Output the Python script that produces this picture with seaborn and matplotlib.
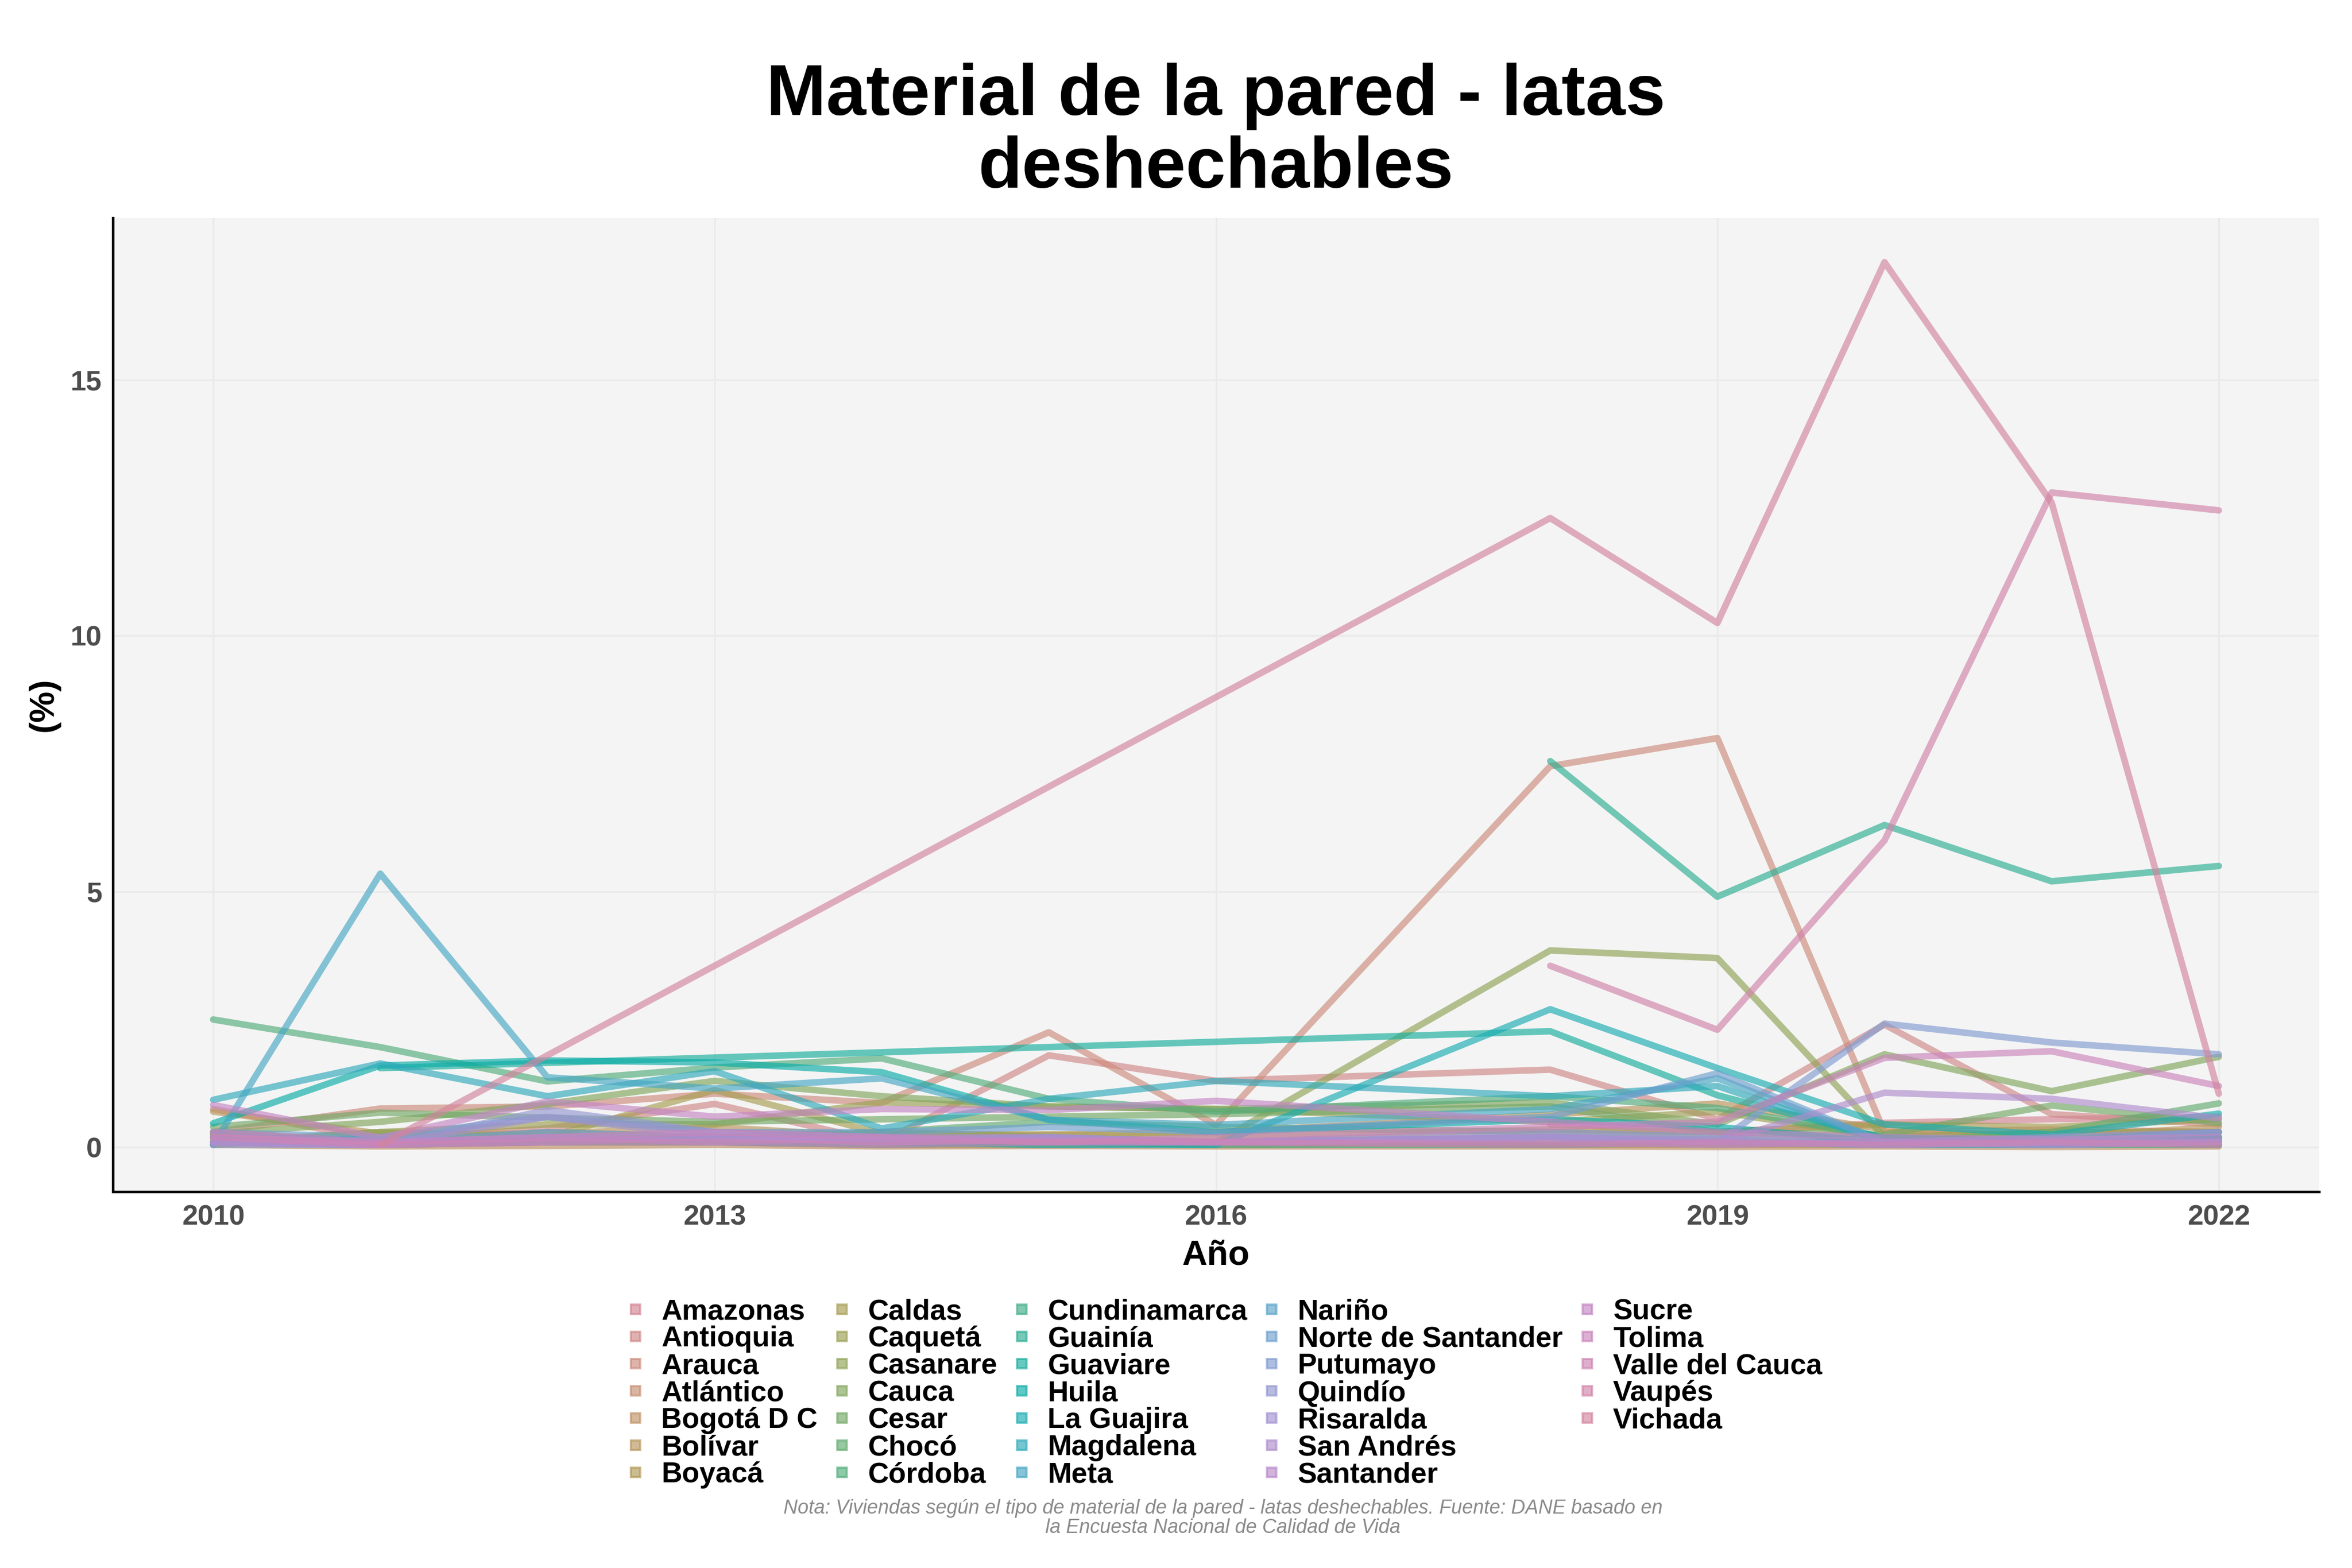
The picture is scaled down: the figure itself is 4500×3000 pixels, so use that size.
import numpy as np
import pandas as pd
import matplotlib
matplotlib.use("Agg")
import matplotlib.pyplot as plt
from matplotlib.lines import Line2D
import seaborn as sns

N = None
years = [2010, 2011, 2012, 2013, 2014, 2015, 2016, 2018, 2019, 2020, 2021, 2022]

amazonas = [N, N, N, N, N, N, N, 0.45, 0.3, 0.48, 0.55, 0.6]
antioquia = [0.75, 0.15, 0.37, 0.85, 0.1, 1.8, 1.3, 1.52, 0.55, 2.4, 0.65, 0.45]
arauca = [0.3, 0.76, 0.8, 1.05, 0.87, 2.25, 0.44, 7.45, 8.0, 0.3, 0.35, 0.3]
atlantico = [0.25, 0.1, 0.15, 0.2, 0.1, 0.1, 0.05, 0.1, 0.05, 0.1, 0.05, 0.1]
bogota = [0.05, 0.02, 0.03, 0.05, 0.02, 0.03, 0.02, 0.02, 0.01, 0.02, 0.01, 0.02]
bolivar = [0.7, 0.27, 0.27, 0.4, 0.2, 0.25, 0.3, 0.64, 0.86, 0.35, 0.2, 0.4]
boyaca = [0.15, 0.05, 0.1, 0.1, 0.05, 0.05, 0.1, 0.05, 0.05, 0.05, 0.1, 0.05]
caldas = [0.3, 0.1, 0.2, 1.12, 0.27, 0.25, 0.2, 0.35, 0.3, 0.45, 0.4, 0.55]
caqueta = [0.1, 0.3, 0.45, 0.45, 0.88, 0.8, 0.75, 0.5, 0.7, 0.2, 0.3, 0.3]
casanare = [0.05, 0.3, 0.2, 0.1, 0.3, 0.2, 0.1, 3.85, 3.7, 0.2, 0.1, 0.2]
cauca = [0.27, 0.5, 0.85, 1.3, 1.0, 0.8, 0.75, 0.88, 0.45, 1.82, 1.1, 1.77]
cesar = [0.4, 0.68, 0.58, 0.5, 0.55, 0.6, 0.65, 0.8, 0.3, 0.25, 0.82, 0.48]
choco = [0.2, 0.1, 0.3, 0.2, 0.3, 0.5, 0.4, 0.3, 0.2, 0.1, 0.3, 0.86]
cordoba = [2.5, 1.96, 1.29, 1.56, 1.74, 0.95, 0.7, 1.0, 0.77, 0.2, 0.1, 0.2]
cundinamarca = [0.1, 0.05, 0.1, 0.1, 0.05, 0.1, 0.05, 0.05, 0.1, 0.05, 0.05, 0.05]
guainia = [N, N, N, N, N, N, N, 7.55, 4.9, 6.3, 5.2, 5.5]
guaviare = [N, 1.55, N, N, N, N, N, 2.27, 1.02, 0.18, 0.15, 0.3]
huila = [0.47, 1.6, 1.7, 1.66, 1.47, 0.54, 0.3, 0.55, 0.4, 0.1, 0.1, 0.2]
la_guajira = [0.2, 0.15, 0.1, 0.2, 0.1, 0.05, 0.05, 2.7, 1.55, 0.45, 0.25, 0.66]
magdalena = [0.93, 1.64, 1.0, 1.49, 0.37, 0.95, 1.3, 1.0, 1.2, 0.1, 0.1, 0.15]
meta = [0.05, 5.35, 1.37, 1.15, 1.35, 0.54, 0.44, 0.75, 1.35, 0.1, 0.05, 0.15]
narino = [0.1, 0.05, 0.2, 0.1, 0.1, 0.15, 0.1, 0.2, 0.1, 0.05, 0.05, 0.1]
norte_santander = [0.3, 0.2, 0.6, 0.3, 0.3, 0.4, 0.3, 0.6, 1.45, 0.1, 0.1, 0.3]
putumayo = [0.2, 0.1, 0.3, 0.2, 0.1, 0.2, 0.1, 0.2, 0.1, 2.42, 2.05, 1.82]
quindio = [0.05, 0.05, 0.73, 0.3, 0.2, 0.1, 0.1, 0.2, 0.15, 0.05, 0.1, 0.1]
risaralda = [0.1, 0.05, 0.6, 0.2, 0.15, 0.2, 0.1, 0.3, 0.2, 0.1, 0.2, 0.3]
san_andres = [0.2, 0.1, 0.2, 0.1, 0.2, 0.2, 0.1, 0.2, 0.1, 1.07, 0.95, 0.57]
santander = [0.1, 0.05, 0.1, 0.2, 0.1, 0.15, 0.1, 0.1, 0.05, 0.1, 0.05, 0.1]
sucre = [0.83, 0.19, 0.9, 0.6, 0.75, 0.73, 0.91, 0.5, 0.3, 0.2, 0.15, 0.2]
tolima = [0.3, 0.1, 0.2, 0.3, 0.2, 0.1, 0.2, 0.4, 0.5, 1.75, 1.88, 1.2]
valle = [0.2, 0.05, 0.1, 0.1, 0.05, 0.1, 0.1, 0.05, 0.1, 0.05, 0.1, 0.05]
vaupes = [N, N, N, N, N, N, N, 3.55, 2.3, 6.0, 12.8, 12.45]
vichada = [N, 0.05, N, N, N, N, N, 12.3, 10.25, 17.3, 12.6, 1.05]

series = {
    "Amazonas": amazonas, "Antioquia": antioquia, "Arauca": arauca,
    "Atlántico": atlantico, "Bogotá D C": bogota, "Bolívar": bolivar,
    "Boyacá": boyaca, "Caldas": caldas, "Caquetá": caqueta,
    "Casanare": casanare, "Cauca": cauca, "Cesar": cesar, "Chocó": choco,
    "Córdoba": cordoba, "Cundinamarca": cundinamarca, "Guainía": guainia,
    "Guaviare": guaviare, "Huila": huila, "La Guajira": la_guajira,
    "Magdalena": magdalena, "Meta": meta, "Nariño": narino,
    "Norte de Santander": norte_santander, "Putumayo": putumayo,
    "Quindío": quindio, "Risaralda": risaralda, "San Andrés": san_andres,
    "Santander": santander, "Sucre": sucre, "Tolima": tolima,
    "Valle del Cauca": valle, "Vaupés": vaupes, "Vichada": vichada,
}
names = list(series.keys())

rows = []
for name, vals in series.items():
    for yr, v in zip(years, vals):
        if v is not None:
            rows.append({"Departamento": name, "Año": yr, "valor": v})
df = pd.DataFrame(rows)


def hcl(h, c, l):
    # polar Luv -> sRGB
    hr = np.deg2rad(h)
    u, v = c * np.cos(hr), c * np.sin(hr)
    Y = ((l + 16) / 116) ** 3
    up = u / (13 * l) + 0.1978398
    vp = v / (13 * l) + 0.4683363
    X = Y * 9 * up / (4 * vp)
    Z = Y * (12 - 3 * up - 20 * vp) / (4 * vp)
    m = np.array([[3.2404542, -1.5371385, -0.4985314],
                  [-0.9692660, 1.8760108, 0.0415560],
                  [0.0556434, -0.2040259, 1.0572252]])
    rgb = np.clip(m @ np.array([X, Y, Z]), 0, None)
    rgb = np.where(rgb <= 0.0031308, 12.92 * rgb, 1.055 * rgb ** (1 / 2.4) - 0.055)
    return tuple(np.clip(rgb, 0, 1))


colores = [hcl((2 + 360 * i / len(names)) % 360, 50, 64) for i in range(len(names))]
paleta = dict(zip(names, colores))

sns.set_style("white")
plt.rcParams["font.family"] = ["Liberation Sans", "DejaVu Sans"]
plt.rcParams["text.color"] = "black"

fig = plt.figure(figsize=(15, 10), dpi=300)
ax = fig.add_axes([0.048, 0.240, 0.938, 0.621])
ax.set_facecolor("#F4F4F4")

sns.lineplot(data=df, x="Año", y="valor", hue="Departamento", hue_order=names,
             palette=paleta, linewidth=3.0, alpha=0.65, legend=False,
             errorbar=None, ax=ax)

ax.set_xlim(2009.4, 2022.6)
ax.set_ylim(-0.865, 18.165)
ax.set_xticks([2010, 2013, 2016, 2019, 2022])
ax.set_yticks([0, 5, 10, 15])
ax.grid(True, color="#EAEAEA", linewidth=0.8)
ax.set_axisbelow(True)
for s in ["top", "right"]:
    ax.spines[s].set_visible(False)
for s in ["left", "bottom"]:
    ax.spines[s].set_color("black")
    ax.spines[s].set_linewidth(1.2)
ax.tick_params(axis="both", length=3, width=1, color="#333333",
               labelsize=13, labelcolor="#4D4D4D")
ax.tick_params(axis="x", pad=3)
ax.tick_params(axis="y", pad=2)
for lab in ax.get_xticklabels() + ax.get_yticklabels():
    lab.set_fontweight("bold")

ax.set_xlabel("Año", fontsize=16, fontweight="bold", labelpad=4, color="black")
ax.set_ylabel("(%)", fontsize=16, fontweight="bold", labelpad=5, color="black")
ax.set_title("Material de la pared - latas\ndeshechables", fontsize=33,
             fontweight="bold", pad=14, linespacing=1.1, color="black")

# legend: 7 rows x 5 columns, last two slots left empty
handles = [Line2D([], [], marker="s", linestyle="", markersize=4.5,
                  color=paleta[n], alpha=0.65) for n in names]
labels = list(names)
for _ in range(2):
    handles.append(Line2D([], [], linestyle="", marker=""))
    labels.append("")
leg = fig.legend(handles, labels, loc="upper center", bbox_to_anchor=(0.52, 0.181),
                 ncol=5, frameon=False, prop={"weight": "bold", "size": 13.2},
                 handlelength=0.8, handletextpad=0.5, columnspacing=0.45,
                 labelspacing=0.0, borderpad=0)

fig.text(0.52, 0.044,
         "Nota: Viviendas según el tipo de material de la pared - latas deshechables. Fuente: DANE basado en\n"
         "la Encuesta Nacional de Calidad de Vida",
         ha="center", va="top", fontsize=9, style="italic", color="#8A8A8A",
         linespacing=1.05)

fig.savefig("out.png", dpi=300)
